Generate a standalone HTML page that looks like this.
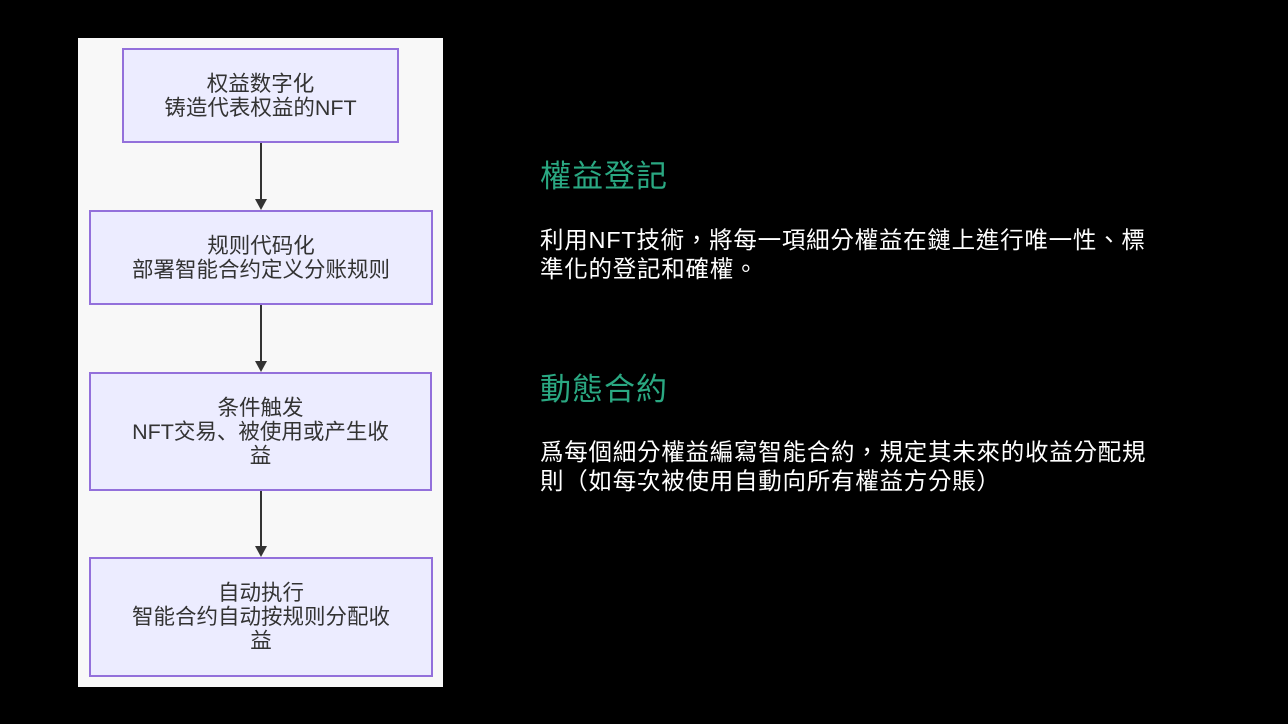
<!DOCTYPE html>
<html><head><meta charset="utf-8"><style>
body{margin:0;width:1288px;height:724px;background:#000;position:relative;overflow:hidden;font-family:"Liberation Sans","Noto Sans CJK SC",sans-serif}
.panel{position:absolute;left:78px;top:38px;width:365px;height:649px;background:#f8f8f8}
.box{position:absolute;background:#ececff;border:2px solid #9370db;box-sizing:border-box;display:flex;align-items:center;justify-content:center;text-align:center;font-size:21.5px;line-height:24px;color:#333}
.line{position:absolute;left:260px;width:2px;background:#333}
.arr{position:absolute;left:255px;width:0;height:0;border-left:6px solid transparent;border-right:6px solid transparent;border-top:11px solid #333}
.h{position:absolute;left:540px;font-size:31px;letter-spacing:1px;color:#2aa882;font-family:"Liberation Sans","Noto Sans CJK TC",sans-serif;line-height:36px}
.p{position:absolute;left:540px;font-size:23.5px;letter-spacing:0.75px;color:#fff;font-family:"Liberation Sans","Noto Sans CJK TC",sans-serif;line-height:29px;white-space:nowrap}
</style></head><body>
<div class="panel"></div>
<div class="box" style="left:122px;top:48px;width:277px;height:95px">权益数字化<br>铸造代表权益的NFT</div>
<div class="line" style="top:143px;height:58px"></div><div class="arr" style="top:199px"></div>
<div class="box" style="left:89px;top:210px;width:344px;height:95px">规则代码化<br>部署智能合约定义分账规则</div>
<div class="line" style="top:305px;height:58px"></div><div class="arr" style="top:361px"></div>
<div class="box" style="left:89px;top:372px;width:343px;height:119px">条件触发<br>NFT交易、被使用或产生收<br>益</div>
<div class="line" style="top:491px;height:56px"></div><div class="arr" style="top:546px"></div>
<div class="box" style="left:89px;top:557px;width:344px;height:120px">自动执行<br>智能合约自动按规则分配收<br>益</div>
<div class="h" style="top:159px">權益登記</div>
<div class="p" style="top:226px">利用NFT技術，將每一項細分權益在鏈上進行唯一性、標<br>準化的登記和確權。</div>
<div class="h" style="top:372px">動態合約</div>
<div class="p" style="top:438px">爲每個細分權益編寫智能合約，規定其未來的收益分配規<br>則（如每次被使用自動向所有權益方分賬）</div>
</body></html>
